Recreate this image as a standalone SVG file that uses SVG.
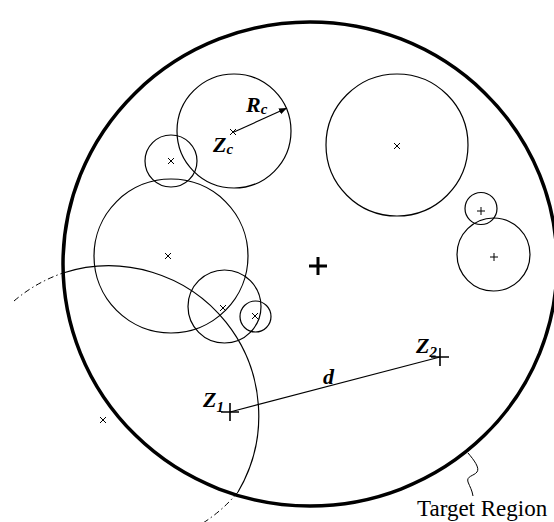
<svg xmlns="http://www.w3.org/2000/svg" width="554" height="522" viewBox="0 0 554 522">
<defs>
<style>
.c{fill:none;stroke:#000;stroke-width:1.2}
.m{fill:none;stroke:#000;stroke-width:1}
.pl{fill:none;stroke:#000;stroke-width:1.6}
.lbl{font-family:"Liberation Serif",serif;font-weight:bold;font-style:italic;font-size:22px;fill:#000}
.sub{font-size:15px}
.dd{fill:none;stroke:#000;stroke-width:1;stroke-dasharray:6 3 1.5 3}
</style>
<marker id="ah" viewBox="0 0 10 10" refX="10" refY="5" markerWidth="8" markerHeight="8" orient="auto" markerUnits="userSpaceOnUse">
<path d="M0,1 L10,5 L0,9 Z" fill="#000"/>
</marker>
<symbol id="x" overflow="visible"><path d="M-3,-3 L3,3 M-3,3 L3,-3" class="m"/></symbol>
</defs>
<rect width="554" height="522" fill="#fff"/>

<g id="target">
<ellipse cx="310" cy="264" rx="247" ry="242" fill="none" stroke="#000" stroke-width="3.5"/>
<path d="M309,266 H327 M318,257 V275" fill="none" stroke="#000" stroke-width="3"/>
</g>

<g id="z1-circle">
<path d="M63,273 A150,150 0 0,1 238,492" class="c"/>
<path d="M14,301 A150,150 0 0,1 63,273" class="dd"/>
<path d="M238,492 A150,150 0 0,1 203,523" class="dd"/>
<use href="#x" x="103" y="420"/>
</g>

<g id="zc-circle">
<circle cx="234" cy="131" r="57" class="c"/>
<use href="#x" x="233" y="132"/>
</g>
<g id="c2"><circle cx="171" cy="161" r="26" class="c"/><use href="#x" x="171" y="161"/></g>
<g id="c3"><circle cx="171" cy="256" r="77" class="c"/><use href="#x" x="168" y="256"/></g>
<g id="c4"><circle cx="224.5" cy="306.5" r="36.5" class="c"/><use href="#x" x="223" y="308"/></g>
<g id="c5"><circle cx="255.5" cy="316.5" r="15.5" class="c"/><use href="#x" x="255" y="316"/></g>
<g id="c6"><circle cx="397" cy="145" r="71" class="c"/><use href="#x" x="397" y="146"/></g>
<g id="c7"><circle cx="481" cy="208.5" r="16" class="c"/><path d="M477,211 H485 M481,207 V215" class="m"/></g>
<g id="c8"><circle cx="493.5" cy="254.5" r="36.5" class="c"/><path d="M490,257 H498 M494,253 V261" class="m"/></g>

<g id="z1">
<path d="M221,412 H239 M230,403 V421" class="pl"/>
<text x="203" y="407" class="lbl">Z<tspan class="sub" dy="5">1</tspan></text>
</g>
<g id="z2">
<path d="M431,357 H449 M440,348 V366" class="pl"/>
<text x="416" y="353" class="lbl">Z<tspan class="sub" dy="4">2</tspan></text>
</g>

<g id="labels">
<text x="246" y="112" class="lbl">R<tspan class="sub" dy="2">c</tspan></text>
<text x="213" y="152" class="lbl">Z<tspan class="sub" dy="2">c</tspan></text>
<text x="323" y="384" class="lbl" font-size="20">d</text>
<text x="417" y="516" font-family="'Liberation Serif',serif" font-size="23" fill="#000">Target Region</text>
</g>

<g id="connectors">
<line x1="234" y1="132" x2="287" y2="108" stroke="#000" stroke-width="1.2" marker-end="url(#ah)"/>
<line x1="230" y1="412" x2="440" y2="357" stroke="#000" stroke-width="1.2"/>
<path d="M468,453 C474,460 480,468 477,472 C474,476 466,476 468,482 C470,487 472,490 473,496" fill="none" stroke="#000" stroke-width="1"/>
</g>
</svg>
